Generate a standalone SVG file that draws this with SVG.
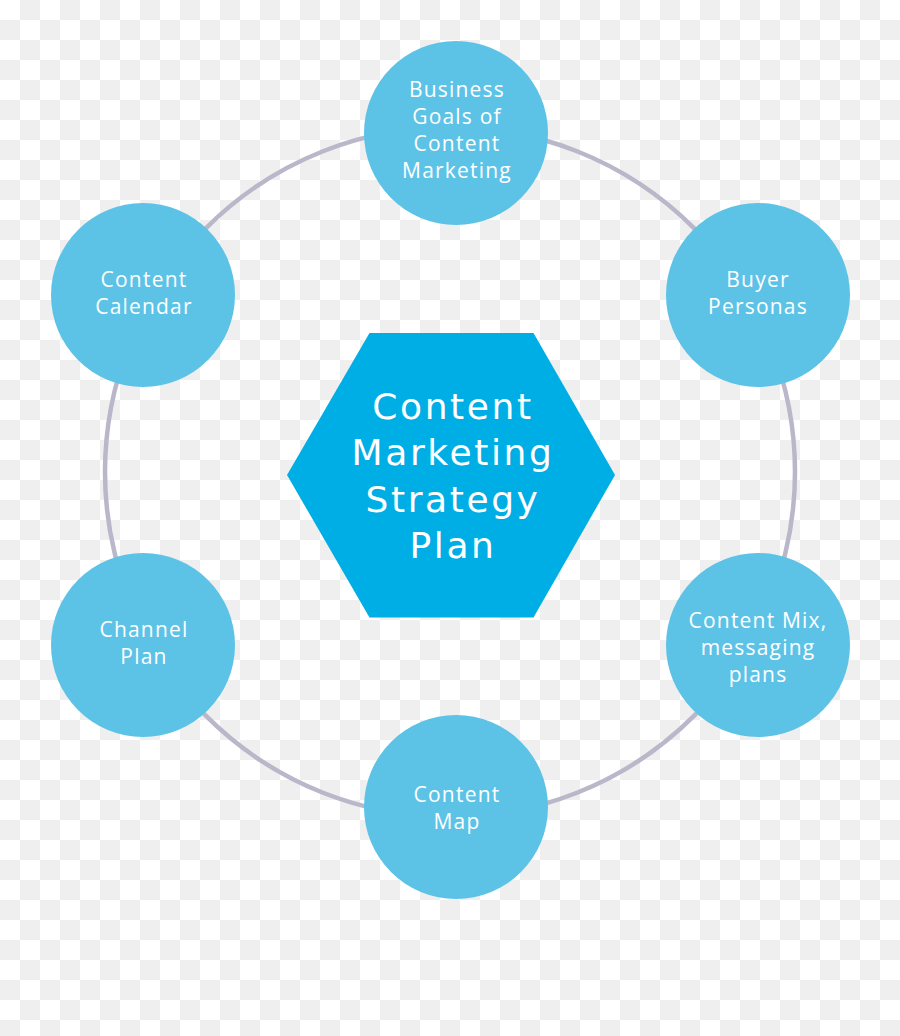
<svg xmlns="http://www.w3.org/2000/svg" width="900" height="1036" viewBox="0 0 900 1036">
  <defs>
    <pattern id="checker" x="0" y="0" width="40" height="40" patternUnits="userSpaceOnUse">
      <rect width="40" height="40" fill="#ffffff"/>
      <rect x="20" y="0" width="20" height="20" fill="#efefef"/>
      <rect x="0" y="20" width="20" height="20" fill="#efefef"/>
    </pattern>
    <style>
      .node { fill: #5cc3e7; }
      .hex { fill: #00aee6; }
      .ring { fill: none; stroke: #b9b7c9; stroke-width: 4.5; }
      .lbl { font-family: "Open Sans", "Liberation Sans", sans-serif; font-size: 21px; fill: #ffffff; text-anchor: middle; letter-spacing: 1.2px; }
      .title { font-family: "DejaVu Sans", "Open Sans", sans-serif; font-size: 36px; fill: #ffffff; text-anchor: middle; letter-spacing: 2.6px; }
    </style>
  </defs>
  <rect width="900" height="1036" fill="url(#checker)"/>

  <g id="connectors">
    <circle class="ring" cx="450" cy="472" r="345"/>
  </g>

  <g id="center">
    <polygon class="hex" points="287,475 369.5,333 533.5,333 615,475 533.5,617.5 369.5,617.5"/>
    <text class="title" x="453" y="419">Content</text>
    <text class="title" x="453" y="465">Marketing</text>
    <text class="title" x="453" y="512">Strategy</text>
    <text class="title" x="453" y="558">Plan</text>
  </g>

  <g id="business-goals">
    <circle class="node" cx="456" cy="133" r="92"/>
    <text class="lbl" x="457" y="97">Business</text>
    <text class="lbl" x="457" y="124">Goals of</text>
    <text class="lbl" x="457" y="151">Content</text>
    <text class="lbl" x="457" y="178">Marketing</text>
  </g>

  <g id="buyer-personas">
    <circle class="node" cx="758" cy="295" r="92"/>
    <text class="lbl" x="758" y="287">Buyer</text>
    <text class="lbl" x="758" y="314">Personas</text>
  </g>

  <g id="content-mix">
    <circle class="node" cx="758" cy="645" r="92"/>
    <text class="lbl" x="758" y="628">Content Mix,</text>
    <text class="lbl" x="758" y="655">messaging</text>
    <text class="lbl" x="758" y="682">plans</text>
  </g>

  <g id="content-map">
    <circle class="node" cx="456" cy="807" r="92"/>
    <text class="lbl" x="457" y="802">Content</text>
    <text class="lbl" x="457" y="829">Map</text>
  </g>

  <g id="channel-plan">
    <circle class="node" cx="143" cy="645" r="92"/>
    <text class="lbl" x="144" y="637">Channel</text>
    <text class="lbl" x="144" y="664">Plan</text>
  </g>

  <g id="content-calendar">
    <circle class="node" cx="143" cy="295" r="92"/>
    <text class="lbl" x="144" y="287">Content</text>
    <text class="lbl" x="144" y="314">Calendar</text>
  </g>
</svg>
